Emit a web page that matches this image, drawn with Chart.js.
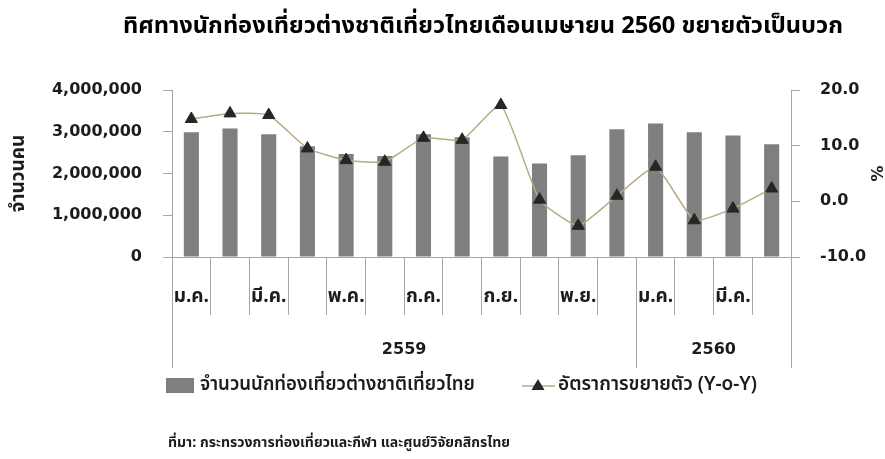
<!DOCTYPE html>
<html><head><meta charset="utf-8">
<script src="https://cdn.jsdelivr.net/npm/chart.js@4.4.1/dist/chart.umd.min.js"></script>
<style>html,body{margin:0;padding:0;background:#fff}</style>
</head><body>
<canvas id="c" width="885" height="459"></canvas>
<script>
const months = ['ม.ค.','ก.พ.','มี.ค.','เม.ย.','พ.ค.','มิ.ย.','ก.ค.','ส.ค.','ก.ย.','ต.ค.','พ.ย.','ธ.ค.','ม.ค.','ก.พ.','มี.ค.','เม.ย.'];
const yearGroups = [{label:'2559', from:0, to:11},{label:'2560', from:12, to:15}];
const tourists = [2990000, 3080000, 2940000, 2650000, 2470000, 2420000, 2940000, 2870000, 2410000, 2240000, 2440000, 3060000, 3200000, 2990000, 2910000, 2700000];
const growth = [14.8, 15.8, 15.5, 9.5, 7.4, 7.1, 11.4, 11.05, 17.3, 0.3, -4.4, 1.0, 6.2, -3.4, -1.3, 2.3];
const leftTicks = {min:0, max:4000000, step:1000000};
const rightTicks = {min:-10, max:20, step:10};
const titleText = 'ทิศทางนักท่องเที่ยวต่างชาติเที่ยวไทยเดือนเมษายน 2560 ขยายตัวเป็นบวก';
const seriesNames = ['จำนวนนักท่องเที่ยวต่างชาติเที่ยวไทย','อัตราการขยายตัว (Y-o-Y)'];
const axisTitles = ['จำนวนคน','%'];
const sourceText = 'ที่มา: กระทรวงการท่องเที่ยวและกีฬา และศูนย์วิจัยกสิกรไทย';

const TH = "Tahoma, 'Noto Sans Thai', 'Noto Sans', 'DejaVu Sans', sans-serif";
const NUM = "'DejaVu Sans', Tahoma, sans-serif";
const AXIS = '#a6a6a6';
const TXT = '#1c1c1c';
const BAR = '#7f7f7f';
const LINE = '#b9ab80';
const MARK = '#262626';

function fitFont(ctx, text, weight, family, width) {
  ctx.font = weight + ' 100px ' + family;
  const w = ctx.measureText(text).width;
  return weight + ' ' + (100 * width / w).toFixed(2) + 'px ' + family;
}

const extras = {
  id: 'extras',
  afterDraw(chart) {
    const ctx = chart.ctx;
    const x = chart.scales.x;
    const area = chart.chartArea;
    const half = (x.getPixelForValue(1) - x.getPixelForValue(0)) / 2;
    ctx.save();
    // title
    ctx.fillStyle = '#000';
    ctx.textAlign = 'center';
    ctx.textBaseline = 'middle';
    ctx.font = fitFont(ctx, titleText, 'bold', TH, 720);
    ctx.fillText(titleText, 483, 28);
    // long separators and year labels
    ctx.strokeStyle = AXIS;
    ctx.lineWidth = 1;
    const bounds = [0, 12, 16];
    bounds.forEach(i => {
      const px = Math.round(x.getPixelForValue(0) - half + i * 2 * half) + 0.5;
      ctx.beginPath(); ctx.moveTo(px, area.bottom); ctx.lineTo(px, 368); ctx.stroke();
    });
    ctx.fillStyle = TXT;
    ctx.font = 'bold 16px ' + NUM;
    yearGroups.forEach(g => {
      const cx = (x.getPixelForValue(g.from) + x.getPixelForValue(g.to)) / 2;
      ctx.fillText(g.label, cx, 350);
    });
    // legend
    ctx.fillStyle = BAR;
    ctx.fillRect(166, 378, 28, 15);
    ctx.fillStyle = TXT;
    ctx.textAlign = 'left';
    ctx.font = fitFont(ctx, seriesNames[0], '600', TH, 275);
    ctx.fillText(seriesNames[0], 200, 386);
    ctx.strokeStyle = LINE; ctx.lineWidth = 1.5;
    ctx.beginPath(); ctx.moveTo(522, 386); ctx.lineTo(555, 386); ctx.stroke();
    ctx.fillStyle = MARK;
    ctx.beginPath(); ctx.moveTo(538, 379); ctx.lineTo(544.5, 390); ctx.lineTo(531.5, 390); ctx.closePath(); ctx.fill();
    ctx.fillStyle = TXT;
    ctx.font = fitFont(ctx, seriesNames[1], '600', TH, 199);
    ctx.fillText(seriesNames[1], 558, 386);
    // source
    ctx.font = fitFont(ctx, sourceText, 'bold', TH, 342);
    ctx.fillText(sourceText, 168, 444);
    ctx.restore();
  }
};

new Chart(document.getElementById('c'), {
  data: {
    labels: months,
    datasets: [
      { type: 'line', label: seriesNames[1], data: growth, yAxisID: 'y1', order: 0,
        borderColor: LINE, borderWidth: 1.5, tension: 0.15, fill: false,
        pointStyle: 'triangle', pointRadius: 7, pointBackgroundColor: MARK, pointBorderColor: MARK, pointBorderWidth: 1 },
      { type: 'bar', label: seriesNames[0], data: tourists, yAxisID: 'y', order: 1,
        backgroundColor: BAR, borderWidth: 0, barPercentage: 0.39, categoryPercentage: 1.0 }
    ]
  },
  options: {
    responsive: false, animation: false,
    layout: { padding: { top: 90, left: 0, right: 0, bottom: 0 } },
    plugins: { legend: { display: false }, title: { display: false }, tooltip: { enabled: false } },
    scales: {
      x: {
        type: 'category', offset: true,
        grid: { offset: true, drawOnChartArea: false, tickLength: 58, color: AXIS, lineWidth: 1 },
        border: { color: AXIS },
        ticks: { autoSkip: false, maxRotation: 0, minRotation: 0, padding: -28, color: TXT,
          font: { family: TH, size: 19, weight: 'bold' },
          callback: (v, i) => (i % 2 === 0 ? months[i] : '') },
        afterFit: s => { s.height = 202; }
      },
      y: {
        position: 'left', min: leftTicks.min, max: leftTicks.max,
        grid: { drawOnChartArea: false, tickLength: 9, color: AXIS },
        border: { color: AXIS },
        ticks: { stepSize: leftTicks.step, padding: 21, color: TXT,
          font: { family: NUM, size: 16, weight: 'bold' },
          callback: v => v.toLocaleString('en-US') },
        title: { display: true, text: axisTitles[0], color: TXT, padding: 9,
          font: { family: TH, size: 19, weight: 'bold' } },
        afterFit: s => { s.width = 172; }
      },
      y1: {
        position: 'right', min: rightTicks.min, max: rightTicks.max,
        grid: { drawOnChartArea: false, tickLength: 9, color: AXIS },
        border: { color: AXIS },
        ticks: { stepSize: rightTicks.step, padding: 20, color: TXT,
          font: { family: NUM, size: 16, weight: 'bold' },
          callback: v => v.toFixed(1) },
        title: { display: true, text: axisTitles[1], color: TXT, padding: 0,
          font: { family: NUM, size: 16, weight: 'bold' } },
        afterFit: s => { s.width = 94; }
      }
    }
  },
  plugins: [extras]
});
</script>
</body></html>
